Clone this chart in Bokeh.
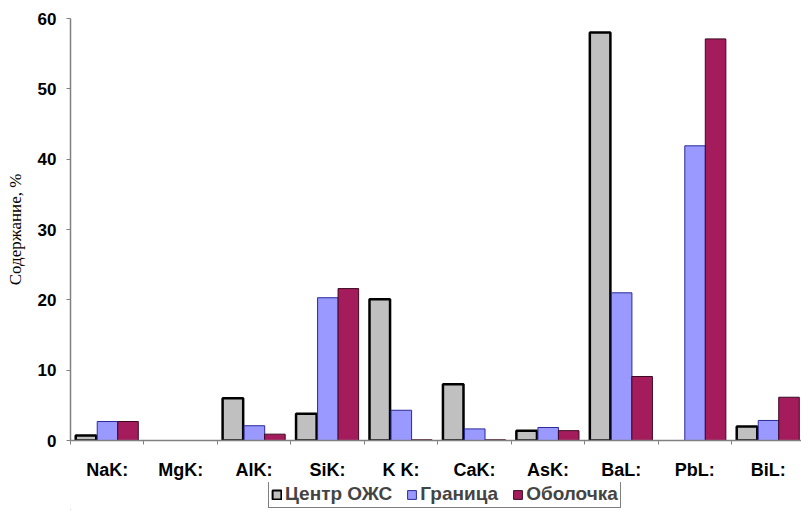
from bokeh.plotting import figure
from bokeh.layouts import column
from bokeh.models import ColumnDataSource, FixedTicker, Range1d, Legend, LegendItem
from bokeh.transform import dodge
from bokeh.embed import file_html
from bokeh.resources import INLINE
import numpy as np

# Element lines along the x axis
categories = ["NaK:", "MgK:", "AlK:", "SiK:", "K K:", "CaK:", "AsK:", "BaL:", "PbL:", "BiL:"]
# Content, % (nan = not detected)
center_ozhs = [0.7, np.nan, 6.0, 3.8, 20.1, 8.0, 1.4, 58.0, np.nan, 2.0]
granitsa = [2.7, np.nan, 2.1, 20.3, 4.3, 1.65, 1.85, 21.0, 41.9, 2.85]
obolochka = [2.7, np.nan, 0.9, 21.6, 0.1, 0.1, 1.4, 9.1, 57.1, 6.15]
series_names = ["Центр ОЖС", "Граница", "Оболочка"]
y_ticks = [0, 10, 20, 30, 40, 50, 60]

# bar styles per series: fill, outline, outline width
styles = [("#c0c0c0", "black", 2.5), ("#9999ff", "#2a2a9a", 1), ("#a51c5c", "#3a0a20", 1)]

n = len(categories)
centers = (np.arange(n) + 0.5).tolist()
source = ColumnDataSource(dict(x=centers, c=center_ozhs, g=granitsa, o=obolochka))

p = figure(width=801, height=482, output_backend="svg", toolbar_location=None,
           x_range=Range1d(0, 9.953), y_range=Range1d(0, 60),
           min_border_left=70, min_border_right=0, min_border_top=18, min_border_bottom=41)
p.outline_line_color = None
p.xgrid.grid_line_color = None
p.ygrid.grid_line_color = None
p.background_fill_color = "white"
p.border_fill_color = "white"

bw = 0.28
offsets = [-0.289, 0.004, 0.283]
for col, off, (fc, lc, lw) in zip(["c", "g", "o"], offsets, styles):
    p.vbar(x=dodge("x", off, range=p.x_range), top=col, width=bw, source=source,
           fill_color=fc, line_color=lc, line_width=lw)

# x axis: labels at category centres, small ticks at category boundaries
xa = p.xaxis[0]
xa.ticker = FixedTicker(ticks=centers, minor_ticks=list(range(n + 1)))
xa.major_label_overrides = {c: lab for c, lab in zip(centers, categories)}
xa.major_tick_line_color = None
xa.major_tick_out = 4
xa.major_tick_in = 0
xa.minor_tick_out = 4
xa.minor_tick_in = 0
xa.minor_tick_line_color = "#808080"
xa.axis_line_color = "#808080"
xa.axis_line_width = 1.5
xa.major_label_text_font = "Liberation Sans"
xa.major_label_text_font_style = "bold"
xa.major_label_text_font_size = "18px"
xa.major_label_text_color = "black"
xa.major_label_standoff = 15

ya = p.yaxis[0]
ya.ticker = FixedTicker(ticks=y_ticks)
ya.minor_tick_line_color = None
ya.major_tick_out = 4
ya.major_tick_in = 0
ya.major_tick_line_color = "#808080"
ya.axis_line_color = "#808080"
ya.axis_line_width = 1.5
ya.major_label_text_font = "Liberation Sans"
ya.major_label_text_font_style = "bold"
ya.major_label_text_font_size = "17px"
ya.major_label_text_color = "black"
ya.major_label_standoff = 10
ya.axis_label = "Содержание, %"
ya.axis_label_text_font = "Liberation Serif"
ya.axis_label_text_font_style = "normal"
ya.axis_label_text_font_size = "17px"
ya.axis_label_text_color = "black"
ya.axis_label_standoff = 10

# legend strip under the chart; its key glyphs sit outside the strip's visible range
q = figure(width=801, height=28, output_backend="svg", toolbar_location=None,
           x_range=Range1d(0, 1), y_range=Range1d(0, 1),
           x_axis_type=None, y_axis_type=None, min_border=0)
q.outline_line_color = None
q.xgrid.grid_line_color = None
q.ygrid.grid_line_color = None
q.border_fill_color = "white"
keys = []
for name, (fc, lc, lw) in zip(series_names, styles):
    r = q.vbar(x=[-5], top=[-5], bottom=[-6], width=0.1,
               fill_color=fc, line_color=lc, line_width=min(lw, 2))
    keys.append(LegendItem(label=name, renderers=[r]))

legend = Legend(items=keys, orientation="horizontal", location=(198, 2))
legend.border_line_color = "black"
legend.border_line_width = 1
legend.background_fill_color = "white"
legend.background_fill_alpha = 1
legend.padding = 2
legend.spacing = 14
legend.margin = 0
legend.label_standoff = 3
legend.glyph_width = 11
legend.glyph_height = 11
legend.label_text_font = "Liberation Sans"
legend.label_text_font_style = "bold"
legend.label_text_font_size = "19px"
legend.label_height = 18
q.add_layout(legend)

layout = column(p, q, spacing=0)
open("out.html", "w").write(file_html(layout, INLINE))
